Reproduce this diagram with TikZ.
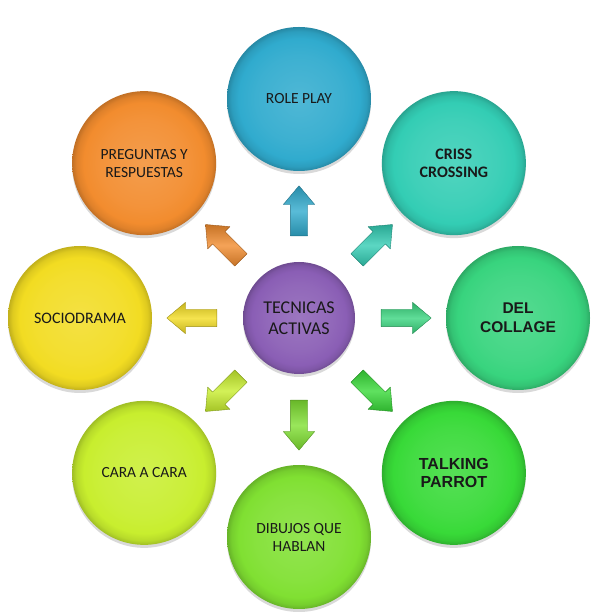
\documentclass[tikz,border=0pt]{standalone}
\usepackage{fontspec}
\setmainfont{Carlito}
\newfontfamily\arialfont{Liberation Sans}
\usetikzlibrary{calc, shapes.arrows, shadows}

\def\ring{219pt}
\def\gap{102pt}

\definecolor{roleblue}{HTML}{30ABCE}
\definecolor{crissteal}{HTML}{33CDB4}
\definecolor{collagegreen}{HTML}{38D47E}
\definecolor{parrotgreen}{HTML}{38DA38}
\definecolor{dibujosgreen}{HTML}{80E032}
\definecolor{caralime}{HTML}{C8EE2E}
\definecolor{sociyellow}{HTML}{F2DC22}
\definecolor{pregorange}{HTML}{F28C2E}
\definecolor{hubviolet}{HTML}{8A5EB5}

\colorlet{bubcol}{roleblue}
\pgfdeclareradialshading[bubcol]{bubble}{\pgfpoint{0bp}{0bp}}{%
  color(0bp)=(bubcol!85!white); color(15bp)=(bubcol!94!white);
  color(21bp)=(bubcol); color(23.5bp)=(bubcol!92!black);
  color(25bp)=(bubcol!80!black); color(50bp)=(bubcol!80!black)}

\tikzset{
  bubble/.style={circle, minimum size=144pt, inner sep=0pt, align=center,
    text=black!90, font=\fontsize{15.5}{18}\selectfont,
    /utils/exec={\colorlet{bubcol}{#1}}, shade, shading=bubble,
    drop shadow={shadow xshift=0pt, shadow yshift=-3pt, fill=black, opacity=0.15}},
  pointer/.style={single arrow, minimum height=50pt, inner xsep=0pt, inner ysep=8.5pt,
    single arrow head extend=7pt, single arrow tip angle=80,
    draw=#1!65!black, line width=0.4pt, top color=#1!82!black,
    bottom color=#1!82!black, middle color=#1!80!white},
}

\begin{document}
\begin{tikzpicture}[line cap=round, line join=round]
		\useasboundingbox (0,0) rectangle (592pt,613pt);
		
		%Coordinates
		\coordinate (hub) at (299pt,295pt);
		
		%Arrows
		\foreach \ang/\col in {90/roleblue, 45/crissteal, 0/collagegreen, -45/parrotgreen,
			-90/dibujosgreen, -135/caralime, 180/sociyellow, 135/pregorange}
		{
			\node[pointer=\col, rotate=\ang] (arrow\ang) at ($(hub)+(\ang:\gap)$) {};
		}
		
		%Bubbles
		\node[bubble=hubviolet, minimum size=112pt, font=\fontsize{18}{21}\selectfont] (tecnicas) at (hub) {TECNICAS\\ACTIVAS};
		\node[bubble=roleblue] (roleplay) at ($(hub)+(90:\ring)$) {ROLE PLAY};
		\node[bubble=crissteal, font=\fontsize{16}{18}\selectfont\bfseries] (criss) at ($(hub)+(45:\ring)$) {CRISS\\CROSSING};
		\node[bubble=collagegreen, font=\arialfont\fontsize{15.5}{19}\selectfont\bfseries] (collage) at ($(hub)+(0:\ring)$) {DEL\\COLLAGE};
		\node[bubble=parrotgreen, font=\arialfont\fontsize{16}{18}\selectfont\bfseries] (parrot) at ($(hub)+(-45:\ring)$) {TALKING\\PARROT};
		\node[bubble=dibujosgreen] (dibujos) at ($(hub)+(-90:\ring)$) {DIBUJOS QUE\\HABLAN};
		\node[bubble=caralime] (cara) at ($(hub)+(-135:\ring)$) {CARA A CARA};
		\node[bubble=sociyellow, font=\fontsize{16}{18}\selectfont] (socio) at ($(hub)+(180:\ring)$) {SOCIODRAMA};
		\node[bubble=pregorange] (preguntas) at ($(hub)+(135:\ring)$) {PREGUNTAS Y\\RESPUESTAS};
		
	\end{tikzpicture}
\end{document}
